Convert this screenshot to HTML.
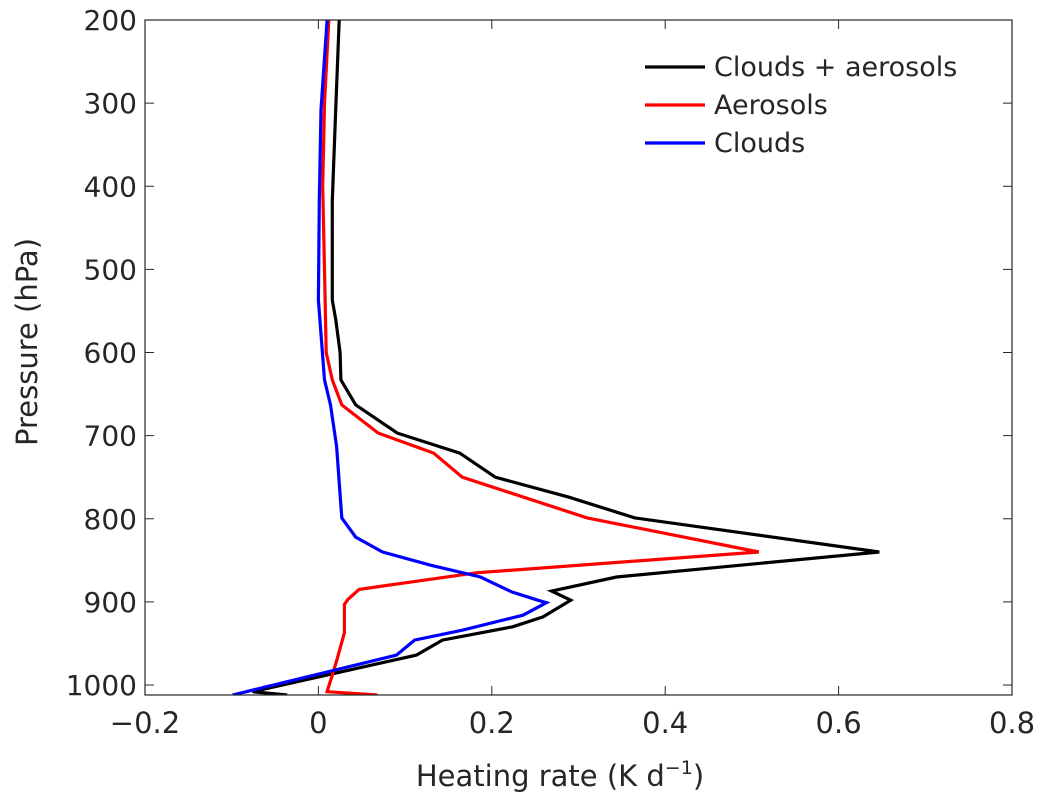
<!DOCTYPE html>
<html><head><meta charset="utf-8"><style>
body{margin:0;background:#fff;}
svg text{font-family:"DejaVu Sans","Liberation Sans",sans-serif;fill:#262626;}
</style></head><body>
<svg id="chart" width="1046" height="807" xmlns="http://www.w3.org/2000/svg">
<g id="plot"></g>
</svg>
<script>
const xTicks=[-0.2,0,0.2,0.4,0.6,0.8];
const xTickLabels=["\u22120.2","0","0.2","0.4","0.6","0.8"];
const yTicks=[200,300,400,500,600,700,800,900,1000];
const pBoth=[200,308,417,537,560,600,633,663,697,721,750,774,799,840,870,887,898,918,930,946,964,1008,1012];
const vBoth=[0.024,0.020,0.016,0.016,0.020,0.025,0.026,0.043,0.091,0.163,0.204,0.289,0.365,0.647,0.344,0.269,0.291,0.259,0.224,0.143,0.113,-0.076,-0.036];
const pAer=[200,300,400,500,600,633,663,697,721,750,799,840,865,885,897,903,937,971,988,1008,1012];
const vAer=[0.012,0.007,0.005,0.007,0.009,0.016,0.027,0.069,0.133,0.166,0.310,0.508,0.182,0.047,0.034,0.030,0.030,0.021,0.016,0.010,0.068];
const pCld=[200,308,417,537,633,663,713,799,822,840,856,870,888,898,901,916,934,946,964,1012];
const vCld=[0.010,0.003,0.001,0.000,0.007,0.014,0.021,0.027,0.043,0.074,0.130,0.187,0.223,0.253,0.263,0.236,0.166,0.111,0.090,-0.099];
const L=145,R=1012,T=20,B=695,xMin=-0.2,xMax=0.8,pMin=200,pMax=1012;
const X=v=>L+(v-xMin)/(xMax-xMin)*(R-L);
const Y=p=>T+(p-pMin)/(pMax-pMin)*(B-T);
const NS="http://www.w3.org/2000/svg";
const g=document.getElementById('plot');
function mk(tag,attrs,parent){const e=document.createElementNS(NS,tag);for(const k in attrs)e.setAttribute(k,attrs[k]);(parent||g).appendChild(e);return e;}
const clip=mk('clipPath',{id:'cp'});mk('rect',{x:L,y:T,width:R-L,height:B-T},clip);
xTicks.forEach((v,i)=>{
 const t=mk('line',{x1:X(v),x2:X(v),y1:B,y2:B-9,stroke:'#262626','stroke-width':1});
 
 
 const t2=mk('line',{x1:X(v),x2:X(v),y1:T,y2:T+9,stroke:'#262626','stroke-width':1});
 
 
 const l=mk('text',{x:X(v),y:B+38,'text-anchor':'middle','font-size':29});
 l.textContent=xTickLabels[i];
 
 
});
yTicks.forEach(p=>{
 const t=mk('line',{x1:L,x2:L+9,y1:Y(p),y2:Y(p),stroke:'#262626','stroke-width':1});
 
 
 const t2=mk('line',{x1:R,x2:R-9,y1:Y(p),y2:Y(p),stroke:'#262626','stroke-width':1});
 
 
 const l=mk('text',{x:L-8,y:Y(p)+10,'text-anchor':'end','font-size':28});
 l.textContent=String(p);
 
 
});
function series(ps,vs,color,name){
 const pts=ps.map((p,i)=>X(vs[i]).toFixed(1)+','+Y(p).toFixed(1)).join(' ');
 const e=mk('polyline',{points:pts,fill:'none',stroke:color,'stroke-width':3.2,'stroke-linejoin':'miter','clip-path':'url(#cp)'});
 
 
}
series(pBoth,vBoth,'#000','series-clouds-aerosols');
series(pAer,vAer,'#ff0000','series-aerosols');
series(pCld,vCld,'#0000ff','series-clouds');
const box=mk('rect',{x:L,y:T,width:R-L,height:B-T,fill:'none',stroke:'#262626','stroke-width':1.2});


const legNames=["Clouds + aerosols","Aerosols","Clouds"];
const legColors=['#000','#ff0000','#0000ff'];
legNames.forEach((n,i)=>{
 const y=67+i*38;
 const ln=mk('line',{x1:645,x2:705,y1:y,y2:y,stroke:legColors[i],'stroke-width':3.2});
 
 
 const tx=mk('text',{x:714,y:y+9,'font-size':27});
 tx.textContent=n;
 
 
});
const xt=mk('text',{x:560,y:786,'text-anchor':'middle','font-size':29});
xt.innerHTML='Heating rate (K d<tspan dy="-12" font-size="19">\u22121</tspan><tspan dy="12">)</tspan>';


const yt=mk('text',{x:0,y:0,'text-anchor':'middle','font-size':29,transform:'translate(37,342) rotate(-90)'});
yt.textContent='Pressure (hPa)';


</script>
</body></html>
